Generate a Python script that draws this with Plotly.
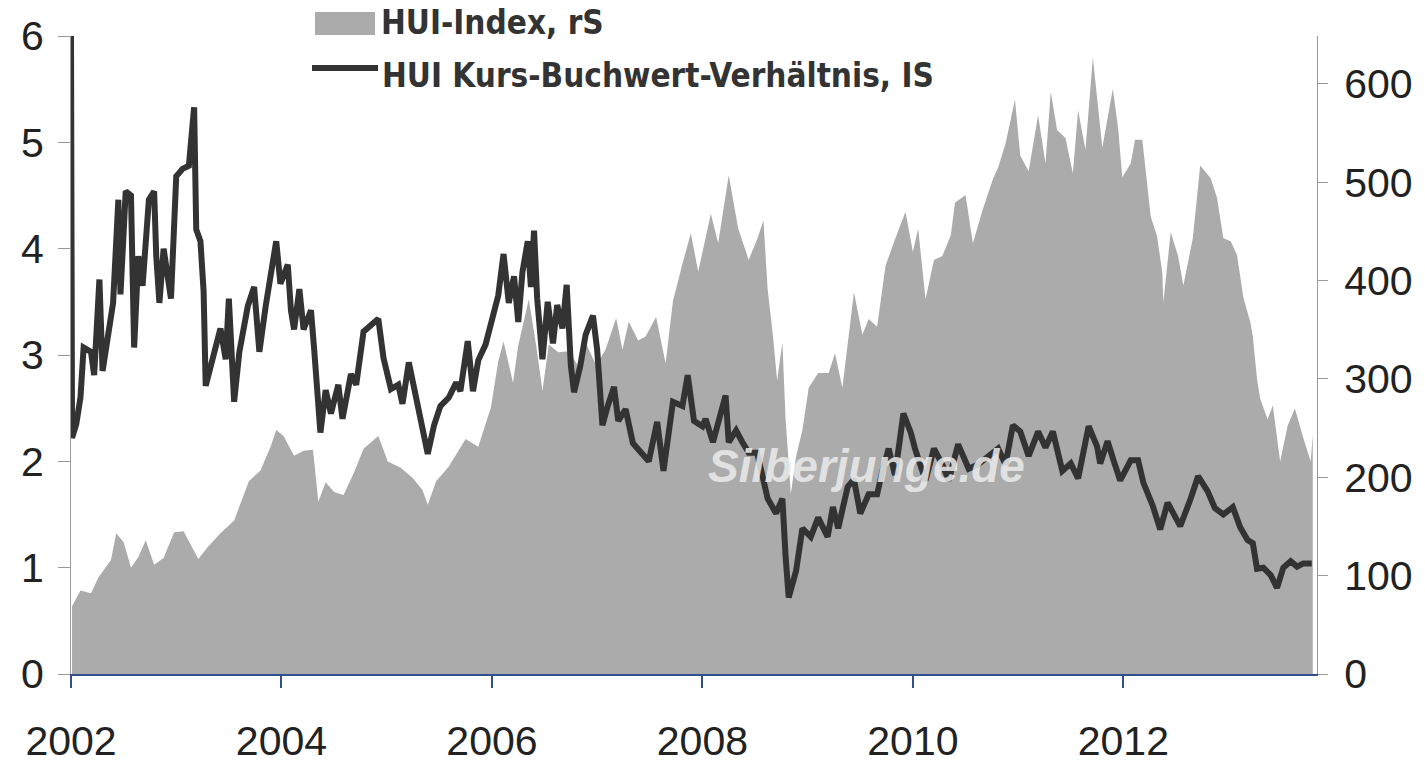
import plotly.graph_objects as go

# HUI index (right scale), decimal years
hui_years = [
    2002.01, 2002.09, 2002.19, 2002.26, 2002.38, 2002.43, 2002.50, 2002.57, 2002.64, 2002.71,
    2002.79, 2002.88, 2002.98, 2003.07, 2003.21, 2003.30, 2003.42, 2003.55, 2003.61, 2003.69,
    2003.80, 2003.90, 2003.95, 2004.02, 2004.12, 2004.21, 2004.30, 2004.35, 2004.42, 2004.50,
    2004.59, 2004.69, 2004.78, 2004.92, 2005.01, 2005.13, 2005.25, 2005.34, 2005.39, 2005.47,
    2005.59, 2005.75, 2005.87, 2005.99, 2006.06, 2006.11, 2006.20, 2006.25, 2006.35, 2006.42,
    2006.48, 2006.54, 2006.63, 2006.73, 2006.82, 2006.89, 2006.99, 2007.08, 2007.18, 2007.24,
    2007.30, 2007.39, 2007.46, 2007.56, 2007.65, 2007.72, 2007.81, 2007.89, 2007.96, 2008.08,
    2008.15, 2008.25, 2008.34, 2008.44, 2008.52, 2008.58, 2008.62, 2008.67, 2008.71, 2008.76,
    2008.79, 2008.84, 2008.89, 2008.95, 2009.01, 2009.10, 2009.20, 2009.26, 2009.33, 2009.39,
    2009.44, 2009.52, 2009.58, 2009.66, 2009.74, 2009.83, 2009.93, 2010.00, 2010.05, 2010.12,
    2010.20, 2010.28, 2010.36, 2010.40, 2010.50, 2010.57, 2010.66, 2010.76, 2010.81, 2010.88,
    2010.97, 2011.02, 2011.10, 2011.19, 2011.26, 2011.31, 2011.37, 2011.45, 2011.52, 2011.57,
    2011.64, 2011.71, 2011.80, 2011.90, 2011.95, 2011.99, 2012.07, 2012.11, 2012.18, 2012.26,
    2012.32, 2012.37, 2012.38, 2012.45, 2012.52, 2012.57, 2012.66, 2012.73, 2012.83, 2012.89,
    2012.95, 2013.02, 2013.08, 2013.14, 2013.21, 2013.23, 2013.27, 2013.30, 2013.37, 2013.42,
    2013.49, 2013.56, 2013.63, 2013.71, 2013.78, 2013.80,
]
hui_values = [
    69, 85, 82, 98, 116, 143, 134, 108, 119, 136,
    111, 118, 144, 145, 117, 129, 143, 156, 173, 196,
    207, 232, 248, 242, 222, 227, 228, 175, 195, 185,
    182, 205, 229, 242, 216, 210, 199, 187, 172, 196,
    211, 239, 231, 271, 318, 338, 296, 334, 381, 334,
    288, 335, 327, 328, 313, 337, 314, 330, 362, 330,
    358, 339, 343, 363, 316, 379, 417, 448, 409, 468,
    438, 507, 453, 421, 442, 461, 391, 344, 298, 337,
    260, 183, 221, 248, 291, 306, 306, 326, 291, 345,
    388, 345, 361, 353, 415, 442, 470, 429, 453, 381,
    421, 425, 446, 479, 487, 438, 471, 503, 515, 539,
    584, 527, 511, 568, 519, 592, 553, 545, 509, 573,
    533, 627, 535, 595, 555, 505, 519, 543, 543, 465,
    445, 408, 378, 449, 425, 395, 443, 517, 504, 484,
    443, 440, 426, 383, 356, 343, 300, 280, 259, 273,
    216, 252, 270, 240, 216, 243,
]

# HUI price-to-book ratio (left scale), decimal years
pb_years = [
    2002.00, 2002.01, 2002.05, 2002.09, 2002.12, 2002.19, 2002.22, 2002.27, 2002.30, 2002.35,
    2002.40, 2002.45, 2002.47, 2002.52, 2002.57, 2002.60, 2002.64, 2002.68, 2002.74, 2002.79,
    2002.81, 2002.84, 2002.88, 2002.95, 2003.00, 2003.06, 2003.12, 2003.17, 2003.19, 2003.23,
    2003.26, 2003.28, 2003.35, 2003.42, 2003.47, 2003.50, 2003.55, 2003.60, 2003.68, 2003.74,
    2003.79, 2003.85, 2003.95, 2003.99, 2004.06, 2004.09, 2004.12, 2004.17, 2004.21, 2004.28,
    2004.31, 2004.35, 2004.37, 2004.42, 2004.47, 2004.54, 2004.58, 2004.66, 2004.71, 2004.78,
    2004.87, 2004.92, 2004.97, 2005.04, 2005.11, 2005.15, 2005.21, 2005.28, 2005.34, 2005.39,
    2005.45, 2005.51, 2005.59, 2005.66, 2005.70, 2005.77, 2005.82, 2005.87, 2005.94, 2006.01,
    2006.06, 2006.11, 2006.16, 2006.21, 2006.25, 2006.29, 2006.34, 2006.37, 2006.40, 2006.43,
    2006.48, 2006.53, 2006.58, 2006.62, 2006.67, 2006.71, 2006.75, 2006.78, 2006.84, 2006.89,
    2006.96, 2007.00, 2007.05, 2007.10, 2007.16, 2007.20, 2007.27, 2007.34, 2007.43, 2007.49,
    2007.57, 2007.63, 2007.72, 2007.81, 2007.86, 2007.92, 2008.00, 2008.03, 2008.10, 2008.17,
    2008.22, 2008.25, 2008.32, 2008.38, 2008.44, 2008.52, 2008.57, 2008.62, 2008.70, 2008.76,
    2008.79, 2008.82, 2008.89, 2008.95, 2009.03, 2009.10, 2009.19, 2009.24, 2009.29, 2009.38,
    2009.44, 2009.50, 2009.58, 2009.66, 2009.71, 2009.77, 2009.83, 2009.91, 2009.98, 2010.02,
    2010.12, 2010.20, 2010.28, 2010.34, 2010.43, 2010.53, 2010.62, 2010.72, 2010.81, 2010.88,
    2010.95, 2011.02, 2011.10, 2011.19, 2011.26, 2011.33, 2011.42, 2011.50, 2011.57, 2011.67,
    2011.75, 2011.78, 2011.85, 2011.91, 2011.97, 2012.07, 2012.14, 2012.19, 2012.28, 2012.35,
    2012.42, 2012.47, 2012.54, 2012.64, 2012.71, 2012.80, 2012.87, 2012.95, 2013.04, 2013.11,
    2013.18, 2013.23, 2013.27, 2013.33, 2013.40, 2013.46, 2013.52, 2013.59, 2013.65, 2013.71,
    2013.79,
]
pb_values = [
    6.00, 2.22, 2.35, 2.60, 3.07, 3.03, 2.81, 3.71, 2.85, 3.21,
    3.49, 4.46, 3.57, 4.54, 4.50, 3.07, 3.93, 3.65, 4.46, 4.54,
    3.93, 3.49, 4.00, 3.53, 4.68, 4.75, 4.78, 5.33, 4.18, 4.07,
    3.60, 2.71, 2.96, 3.25, 2.96, 3.53, 2.56, 3.03, 3.46, 3.64,
    3.03, 3.46, 4.07, 3.67, 3.85, 3.42, 3.24, 3.62, 3.24, 3.42,
    3.06, 2.59, 2.27, 2.67, 2.45, 2.72, 2.40, 2.82, 2.72, 3.22,
    3.30, 3.34, 2.97, 2.68, 2.72, 2.54, 2.93, 2.62, 2.30, 2.07,
    2.34, 2.52, 2.60, 2.74, 2.66, 3.13, 2.66, 2.95, 3.10, 3.38,
    3.56, 3.95, 3.49, 3.74, 3.31, 3.78, 4.07, 3.64, 4.17, 3.53,
    2.96, 3.50, 3.11, 3.47, 3.25, 3.66, 2.90, 2.65, 2.90, 3.19,
    3.37, 3.05, 2.34, 2.52, 2.70, 2.38, 2.49, 2.17, 2.07, 2.00,
    2.37, 1.91, 2.56, 2.52, 2.81, 2.38, 2.33, 2.40, 2.18, 2.47,
    2.62, 2.18, 2.29, 2.18, 2.08, 2.08, 1.87, 1.65, 1.51, 1.65,
    1.11, 0.72, 0.97, 1.37, 1.29, 1.47, 1.29, 1.57, 1.37, 1.76,
    1.83, 1.51, 1.69, 1.69, 1.91, 2.12, 1.87, 2.45, 2.27, 2.12,
    1.82, 2.12, 1.97, 1.82, 2.16, 1.93, 1.97, 2.05, 2.12, 1.97,
    2.34, 2.28, 2.05, 2.28, 2.13, 2.28, 1.91, 1.98, 1.84, 2.33,
    2.14, 1.98, 2.19, 2.00, 1.82, 2.01, 2.01, 1.80, 1.58, 1.36,
    1.61, 1.52, 1.39, 1.65, 1.86, 1.72, 1.56, 1.50, 1.57, 1.38,
    1.26, 1.23, 0.99, 1.00, 0.93, 0.81, 1.00, 1.06, 1.01, 1.04,
    1.04,
]

year_ticks = [2002, 2004, 2006, 2008, 2010, 2012]
year_labels = ["2002", "2004", "2006", "2008", "2010", "2012"]
left_ticks = [0, 1, 2, 3, 4, 5, 6]
right_ticks = [0, 100, 200, 300, 400, 500, 600]

legend_area = "HUI-Index, rS"
legend_line = "HUI Kurs-Buchwert-Verhältnis, IS"
watermark = "Silberjunge.de"

W, H = 1425, 765
L, R, T, B = 71, 1317, 36, 674
AREA_GRAY = "#ababab"
LINE_DARK = "#333333"
TICK_FONT = dict(family="Liberation Sans, Arial, sans-serif", size=41, color="#222222")
LEGEND_FONT = dict(family="Liberation Sans Narrow, DejaVu Sans Condensed, Arial Narrow, sans-serif",
                   size=33, color="#333333")


def px(xp):
    return (xp - L) / (R - L)


def py(yp):
    return (B - yp) / (B - T)


fig = go.Figure()

# gray index area on the primary axis (drawn underneath)
fig.add_trace(go.Scatter(
    x=hui_years, y=hui_values, mode="lines", fill="tozeroy",
    fillcolor=AREA_GRAY, line=dict(width=0, color=AREA_GRAY),
    yaxis="y", showlegend=False, hoverinfo="skip",
))

# ratio line on the overlaying axis (drawn on top)
fig.add_trace(go.Scatter(
    x=pb_years, y=pb_values, mode="lines",
    line=dict(width=6, color=LINE_DARK),
    yaxis="y2", showlegend=False, hoverinfo="skip",
))

fig.update_layout(
    width=W, height=H,
    margin=dict(l=L, r=W - R, t=T, b=H - B, pad=0, autoexpand=False),
    paper_bgcolor="white", plot_bgcolor="white",
    showlegend=False,
    xaxis=dict(
        range=[2002.0, 2013.84], tickmode="array",
        tickvals=year_ticks, ticktext=year_labels,
        showgrid=False, zeroline=False, automargin=False,
        showline=True, linecolor="#2f4f8f", linewidth=2,
        ticks="outside", ticklen=12, tickwidth=2, tickcolor="#2f4f8f",
        tickfont=TICK_FONT, ticklabelstandoff=18,
    ),
    yaxis=dict(
        side="right", range=[0, 648.6], tickmode="array",
        tickvals=right_ticks, showgrid=False, zeroline=False, automargin=False,
        showline=True, linecolor="#999999", linewidth=1,
        ticks="outside", ticklen=10, tickcolor="#999999",
        tickfont=TICK_FONT, ticklabelstandoff=8,
    ),
    yaxis2=dict(
        side="left", overlaying="y", range=[0, 6], tickmode="array",
        tickvals=left_ticks, showgrid=False, zeroline=False, automargin=False,
        showline=True, linecolor="#999999", linewidth=1,
        ticks="outside", ticklen=12, tickcolor="#999999",
        tickfont=TICK_FONT, ticklabelstandoff=6,
    ),
    shapes=[
        dict(type="rect", xref="paper", yref="paper",
             x0=px(315), x1=px(375), y0=py(35), y1=py(12),
             fillcolor=AREA_GRAY, line=dict(width=0)),
        dict(type="line", xref="paper", yref="paper",
             x0=px(312), x1=px(378), y0=py(68), y1=py(68),
             line=dict(color=LINE_DARK, width=6)),
    ],
    annotations=[
        dict(text="<b>%s</b>" % legend_area, xref="paper", yref="paper",
             x=px(379), y=py(23), xanchor="left", yanchor="middle",
             showarrow=False, font=LEGEND_FONT),
        dict(text="<b>%s</b>" % legend_line, xref="paper", yref="paper",
             x=px(380), y=py(75), xanchor="left", yanchor="middle",
             showarrow=False, font=LEGEND_FONT),
        dict(text="<b><i>%s</i></b>" % watermark, xref="paper", yref="paper",
             x=px(866), y=py(466), xanchor="center", yanchor="middle",
             showarrow=False,
             font=dict(family="Liberation Sans, Arial, sans-serif", size=46,
                       color="rgba(236,236,236,0.85)")),
    ],
)

fig.write_html("out.html")
